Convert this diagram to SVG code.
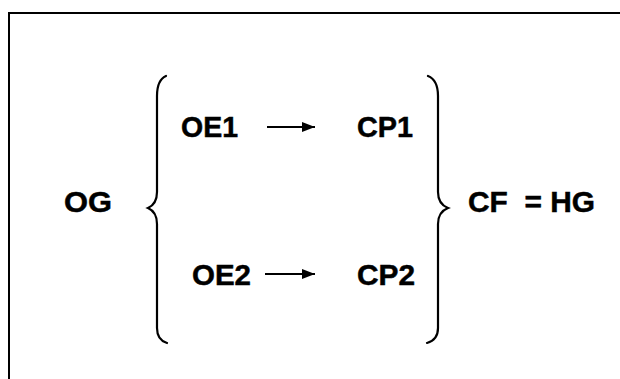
<svg xmlns="http://www.w3.org/2000/svg" width="620" height="379" viewBox="0 0 620 379">
<style>
.t{font-family:"Liberation Sans",Arial,sans-serif;font-weight:bold;font-size:29.5px;fill:#000;stroke:#000;stroke-width:0.5}
.br{fill:none;stroke:#000;stroke-width:2.2;stroke-linecap:round}
.ln{stroke:#000;stroke-width:2;fill:none}
</style>
<defs>
<marker id="ah" markerWidth="13" markerHeight="10" refX="13" refY="5" orient="auto" markerUnits="userSpaceOnUse">
<path d="M0,0 L13,5 L0,10 Z" fill="#000"/>
</marker>
</defs>
<rect width="620" height="379" fill="#fff"/>
<g id="frame">
<path class="ln" d="M9,379 L9,13 L620,13"/>
</g>
<g id="left-brace">
<path class="br" d="M166,76 Q157,80 157,96 L157,192 Q157,204 148,208 Q157,212 157,224 L157,328 Q157,340 167,343"/>
</g>
<g id="right-brace">
<path class="br" d="M428,76 Q438,80 438,96 L438,192 Q438,204 448,208 Q438,212 438,224 L438,328 Q438,340 427,343"/>
</g>
<g id="OG"><text class="t" x="64" y="212" textLength="48" lengthAdjust="spacingAndGlyphs">OG</text></g>
<g id="OE1"><text class="t" x="181" y="137" textLength="57" lengthAdjust="spacingAndGlyphs">OE1</text></g>
<g id="CP1"><text class="t" x="357" y="137" textLength="56" lengthAdjust="spacingAndGlyphs">CP1</text></g>
<g id="OE2"><text class="t" x="192" y="285" textLength="59" lengthAdjust="spacingAndGlyphs">OE2</text></g>
<g id="CP2"><text class="t" x="357" y="285" textLength="58" lengthAdjust="spacingAndGlyphs">CP2</text></g>
<g id="CF"><text class="t" x="468" y="212" textLength="127" lengthAdjust="spacingAndGlyphs" xml:space="preserve">CF  = HG</text></g>
<g id="connectors">
<line x1="267" y1="127" x2="315" y2="127" stroke="#000" stroke-width="2" marker-end="url(#ah)"/>
<line x1="265" y1="274" x2="315" y2="274" stroke="#000" stroke-width="2" marker-end="url(#ah)"/>
</g>
</svg>
